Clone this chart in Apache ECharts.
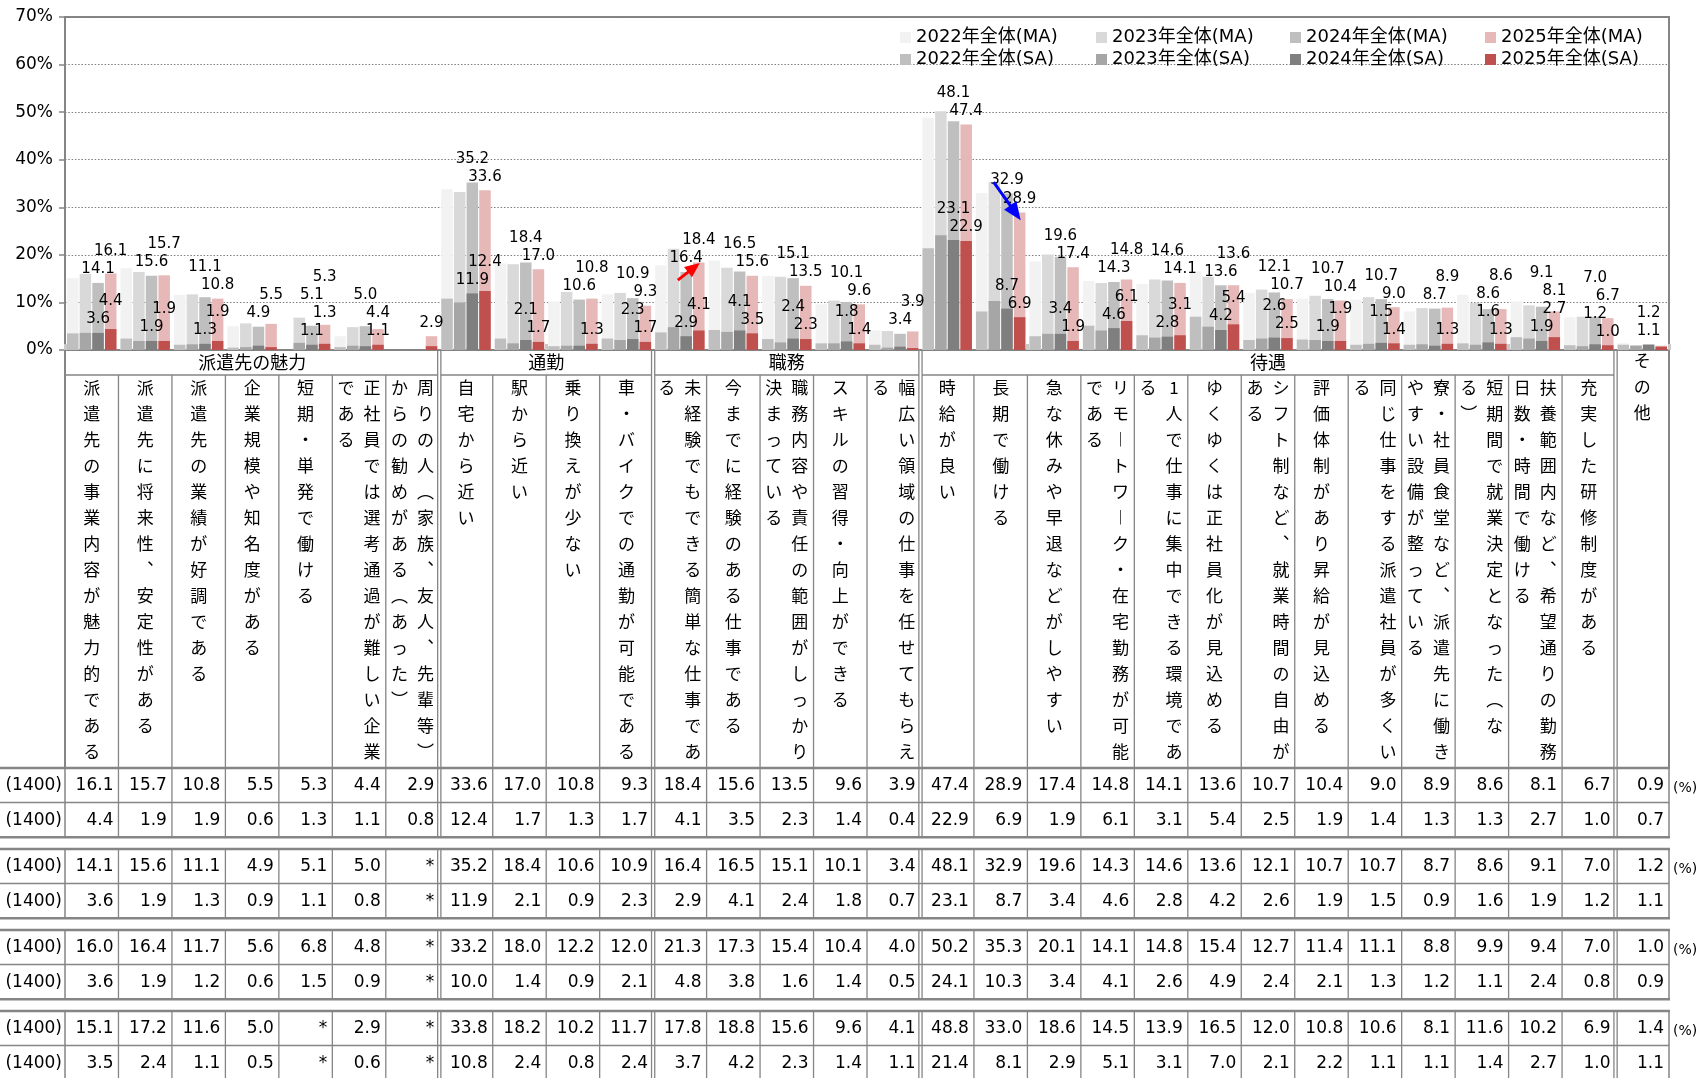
<!DOCTYPE html>
<html><head><meta charset="utf-8">
<script src="https://cdn.jsdelivr.net/npm/echarts@6/dist/echarts.min.js"></script>
<style>html,body{margin:0;padding:0;background:#fff}#main{width:1705px;height:1078px}</style>
</head><body><div id="main"></div>
<script>
// ---------------- data ----------------
const categories = [
 '派遣先の事業内容が魅力的である',
 '派遣先に将来性、安定性がある',
 '派遣先の業績が好調である',
 '企業規模や知名度がある',
 '短期・単発で働ける',
 '正社員では選考通過が難しい企業である',
 '周りの人（家族、友人、先輩等）からの勧めがある（あった）',
 '自宅から近い',
 '駅から近い',
 '乗り換えが少ない',
 '車・バイクでの通勤が可能である',
 '未経験でもできる簡単な仕事である',
 '今までに経験のある仕事である',
 '職務内容や責任の範囲がしっかり決まっている',
 'スキルの習得・向上ができる',
 '幅広い領域の仕事を任せてもらえる',
 '時給が良い',
 '長期で働ける',
 '急な休みや早退などがしやすい',
 'リモートワーク・在宅勤務が可能である',
 '1人で仕事に集中できる環境である',
 'ゆくゆくは正社員化が見込める',
 'シフト制など、就業時間の自由がある',
 '評価体制があり昇給が見込める',
 '同じ仕事をする派遣社員が多くいる',
 '寮・社員食堂など、派遣先に働きやすい設備が整っている',
 '短期間で就業決定となった（なる）',
 '扶養範囲内など、希望通りの勤務日数・時間で働ける',
 '充実した研修制度がある',
 'その他'
];
const groupNames  = ['派遣先の魅力', '通勤', '職務', '待遇', ''];
const groupCounts = [7, 4, 5, 13, 1];
const years = ['2022', '2023', '2024', '2025'];
const sampleSize = 1400;

const ma2025 = [16.1,15.7,10.8,5.5,5.3,4.4,2.9,33.6,17.0,10.8,9.3,18.4,15.6,13.5,9.6,3.9,47.4,28.9,17.4,14.8,14.1,13.6,10.7,10.4,9.0,8.9,8.6,8.1,6.7,0.9];
const sa2025 = [4.4,1.9,1.9,0.6,1.3,1.1,0.8,12.4,1.7,1.3,1.7,4.1,3.5,2.3,1.4,0.4,22.9,6.9,1.9,6.1,3.1,5.4,2.5,1.9,1.4,1.3,1.3,2.7,1.0,0.7];
const ma2024 = [14.1,15.6,11.1,4.9,5.1,5.0,null,35.2,18.4,10.6,10.9,16.4,16.5,15.1,10.1,3.4,48.1,32.9,19.6,14.3,14.6,13.6,12.1,10.7,10.7,8.7,8.6,9.1,7.0,1.2];
const sa2024 = [3.6,1.9,1.3,0.9,1.1,0.8,null,11.9,2.1,0.9,2.3,2.9,4.1,2.4,1.8,0.7,23.1,8.7,3.4,4.6,2.8,4.2,2.6,1.9,1.5,0.9,1.6,1.9,1.2,1.1];
const ma2023 = [16.0,16.4,11.7,5.6,6.8,4.8,null,33.2,18.0,12.2,12.0,21.3,17.3,15.4,10.4,4.0,50.2,35.3,20.1,14.1,14.8,15.4,12.7,11.4,11.1,8.8,9.9,9.4,7.0,1.0];
const sa2023 = [3.6,1.9,1.2,0.6,1.5,0.9,null,10.0,1.4,0.9,2.1,4.8,3.8,1.6,1.4,0.5,24.1,10.3,3.4,4.1,2.6,4.9,2.4,2.1,1.3,1.2,1.1,2.4,0.8,0.9];
const ma2022 = [15.1,17.2,11.6,5.0,null,2.9,null,33.8,18.2,10.2,11.7,17.8,18.8,15.6,9.6,4.1,48.8,33.0,18.6,14.5,13.9,16.5,12.0,10.8,10.6,8.1,11.6,10.2,6.9,1.4];
const sa2022 = [3.5,2.4,1.1,0.5,null,0.6,null,10.8,2.4,0.8,2.4,3.7,4.2,2.3,1.4,1.1,21.4,8.1,2.9,5.1,3.1,7.0,2.1,2.2,1.1,1.1,1.4,2.7,1.0,1.1];
const yTicks = [0,10,20,30,40,50,60,70];

// ---------------- style / layout ----------------
const FONT_NUM = '"DejaVu Sans", "Noto Sans CJK JP", sans-serif';
const FONT_JP = '"Noto Sans CJK JP", sans-serif';
const MA_COLORS = ['#f2f2f2', '#d9d9d9', '#bfbfbf', '#e6b9b8'];
const SA_COLORS = ['#bfbfbf', '#a6a6a6', '#7f7f7f', '#c0504d'];
const LINE = '#858585';
const W = 1705, H = 1078;
const GL = 65, GR = 1669, GT = 17, G0 = 350;
const N = categories.length;
const colW = (GR - GL) / N;
const xb = k => GL + k * colW;

const maArr = [ma2022, ma2023, ma2024, ma2025];
const saArr = [sa2022, sa2023, sa2024, sa2025];
const labelArrs = {2: ma2024, 3: ma2025, 6: sa2024, 7: sa2025};
const LABEL_H = 18;

function labelLayout(params) {
  const si = params.seriesIndex, i = params.dataIndex;
  const arr = labelArrs[si];
  if (!arr) return {};
  const v = arr[i];
  if (v == null || v < 1) return {};
  const r = params.rect;
  const bottom = r.y + r.height;
  const ppu = r.height / v;
  const items = [];
  [2, 3, 6, 7].forEach(s => {
    const val = labelArrs[s][i];
    if (val != null && val >= 1) items.push({s: s, top: bottom - val * ppu});
  });
  items.sort((a, b) => b.top - a.top);
  let prev = Infinity, dy = 0;
  for (const it of items) {
    const p = Math.min(it.top, prev - LABEL_H);
    if (it.s === si) { dy = p - it.top; break; }
    prev = p;
  }
  return {dy: dy};
}

const fmtLabel = p => (p.value == null || p.value < 1) ? '' : Number(p.value).toFixed(1);

const series = [];
years.forEach((y, j) => {
  series.push({
    name: y + '年全体(MA)', type: 'bar', xAxisIndex: 0, yAxisIndex: 0,
    data: maArr[j], barWidth: 11.5, barGap: '10%',
    itemStyle: {color: MA_COLORS[j]},
    label: {show: j >= 2, position: 'top', distance: 6, formatter: fmtLabel,
            fontSize: 15, fontFamily: FONT_NUM, color: '#000'},
    labelLayout: labelLayout
  });
});
years.forEach((y, j) => {
  series.push({
    name: y + '年全体(SA)', type: 'bar', xAxisIndex: 1, yAxisIndex: 0,
    data: saArr[j], barWidth: 11.5, barGap: '10%',
    itemStyle: {color: SA_COLORS[j]},
    label: {show: j >= 2, position: 'top', distance: 6, formatter: fmtLabel,
            fontSize: 15, fontFamily: FONT_NUM, color: '#000'},
    labelLayout: labelLayout
  });
});

const LEG_X = [895, 1091, 1285, 1480];
const legends = years.map((y, j) => ({
  orient: 'vertical', left: LEG_X[j], top: 22,
  itemWidth: 11, itemHeight: 11, itemGap: 1, icon: 'rect', selectedMode: false,
  data: [y + '年全体(MA)', y + '年全体(SA)'],
  textStyle: {fontSize: 18, fontFamily: FONT_NUM, color: '#000', lineHeight: 21}
}));

const option = {
  animation: false,
  backgroundColor: '#fff',
  grid: {left: GL, right: W - GR, top: GT, bottom: H - G0, show: true,
         borderColor: LINE, borderWidth: 2, containLabel: false},
  legend: legends,
  xAxis: [
    {type: 'category', data: categories, position: 'bottom',
     axisLine: {show: false}, axisLabel: {show: false},
     axisTick: {show: true, inside: true, length: 6, lineStyle: {color: '#c8c8c8', width: 3}},
     splitLine: {show: false}},
    {type: 'category', data: categories, position: 'bottom', show: false}
  ],
  yAxis: {
    type: 'value', min: 0, max: 70, interval: 10,
    axisLine: {show: false},
    axisTick: {show: true, length: 6, lineStyle: {color: LINE, width: 1.5}},
    axisLabel: {formatter: '{value}%', fontSize: 17, fontFamily: FONT_NUM, color: '#000', margin: 12},
    splitLine: {show: true, lineStyle: {color: '#7f7f7f', width: 1.2, type: [1.5, 1.8]}}
  },
  series: series
};

const chart = echarts.init(document.getElementById('main'), null, {renderer: 'canvas'});
chart.setOption(option);

// ---------------- table & labels (graphic) ----------------
const g = [];
function hline(x1, x2, y, w) { g.push({type: 'line', silent: true, shape: {x1: x1, y1: y, x2: x2, y2: y}, style: {stroke: LINE, lineWidth: w}}); }
function vline(x, y1, y2, w) { g.push({type: 'line', silent: true, shape: {x1: x, y1: y1, x2: x, y2: y2}, style: {stroke: LINE, lineWidth: w}}); }
function txt(x, y, t, o) {
  g.push({type: 'text', silent: true, style: Object.assign({text: t, x: x, y: y, fill: '#000',
    fontSize: 17, fontFamily: FONT_NUM, align: 'center', verticalAlign: 'middle'}, o || {})});
}

const HEAD_ROW = 375, HEAD_BOTTOM = 768;
const boundaries = new Set();
let acc = 0;
const groupRanges = groupCounts.map((c, gi) => { const r = [acc, acc + c]; acc += c; if (acc < N) boundaries.add(acc); return r; });

// header area
groupRanges.forEach((r, gi) => {
  if (!groupNames[gi]) return;
  const x1 = xb(r[0]) + (r[0] > 0 ? 1.5 : 0), x2 = xb(r[1]) - (r[1] < N ? 1.5 : 0);
  hline(x1, x2, HEAD_ROW, 1.5);
  txt((xb(r[0]) + xb(r[1])) / 2, 362, groupNames[gi], {fontSize: 18, fontFamily: FONT_JP});
});
vline(GL, G0, HEAD_BOTTOM, 2);
vline(GR, G0, HEAD_BOTTOM, 2);
for (let k = 1; k < N; k++) {
  if (boundaries.has(k)) { vline(xb(k) - 1.6, G0, HEAD_BOTTOM, 1.3); vline(xb(k) + 1.6, G0, HEAD_BOTTOM, 1.3); }
  else vline(xb(k), HEAD_ROW, HEAD_BOTTOM, 1.3);
}

// vertical category labels
const VMAP = {'（': '︵', '）': '︶', 'ー': '︱', '、': '︑'};
const NOSTART = '）、';
function wrapVertical(s, max) {
  const chars = Array.from(s);
  const cols = [];
  let i = 0;
  while (i < chars.length) {
    let end = Math.min(i + max, chars.length);
    if (end < chars.length && NOSTART.indexOf(chars[end]) >= 0) end -= 1;
    cols.push(chars.slice(i, end));
    i = end;
  }
  return cols.map(c => c.map(ch => VMAP[ch] || ch));
}
let gi2 = 0;
categories.forEach((name, i) => {
  while (i >= groupRanges[gi2][1]) gi2++;
  const noHeader = !groupNames[gi2];
  const cols = wrapVertical(name, 15);
  const cx = xb(i) + colW / 2;
  const xs = cols.length === 1 ? [cx] : [cx + 13, cx - 13];
  cols.forEach((c, ci) => {
    txt(xs[ci], noHeader ? 348 : 375, c.join('\n'),
        {fontSize: 17, fontFamily: FONT_JP, lineHeight: 26, verticalAlign: 'top'});
  });
});

// data table
const tableRows = [ma2025, sa2025, ma2024, sa2024, ma2023, sa2023, ma2022, sa2022];
const blockTops = [768, 849, 930, 1011];
const ROWH = 34.6;
blockTops.forEach((top, b) => {
  const bot = top + 2 * ROWH;
  hline(0, GR + 1, top, 2.4);
  hline(0, GR, top + ROWH, 1.5);
  hline(0, GR + 1, bot, 2.4);
  vline(GL, top, bot, 1.5);
  vline(GR, top, bot, 1.5);
  for (let k = 1; k < N; k++) {
    if (boundaries.has(k)) { vline(xb(k) - 1.6, top, bot, 1.3); vline(xb(k) + 1.6, top, bot, 1.3); }
    else vline(xb(k), top, bot, 1.3);
  }
  for (let r = 0; r < 2; r++) {
    const arr = tableRows[b * 2 + r];
    const cy = top + ROWH * r + ROWH / 2 + 0.5;
    txt(62, cy, '(' + sampleSize + ')', {align: 'right'});
    arr.forEach((v, k) => {
      txt(xb(k + 1) - 5, cy, v == null ? '*' : v.toFixed(1), {align: 'right'});
    });
    if (r === 0) txt(GR + 4, cy + 3, '(%)', {align: 'left', fontSize: 14});
  }
});

// annotation arrows
const arrows = [
  {cat: 11, from: [-2, 14.7], to: [20, 18.3], color: '#ff0000', head: 15, hw: 13},
  {cat: 17, from: [-7, 35.3], to: [20, 27.3], color: '#0000ff', head: 18, hw: 15}
];
arrows.forEach(a => {
  const p1 = chart.convertToPixel({xAxisIndex: 0, yAxisIndex: 0}, [a.cat, a.from[1]]);
  const p2 = chart.convertToPixel({xAxisIndex: 0, yAxisIndex: 0}, [a.cat, a.to[1]]);
  const x1 = p1[0] + a.from[0], y1 = p1[1], x2 = p2[0] + a.to[0], y2 = p2[1];
  const dx = x2 - x1, dy = y2 - y1, len = Math.sqrt(dx * dx + dy * dy);
  const ux = dx / len, uy = dy / len, px = -uy, py = ux;
  const bx = x2 - ux * a.head, by = y2 - uy * a.head;
  g.push({type: 'line', silent: true, z: 100, shape: {x1: x1, y1: y1, x2: bx + ux * 2, y2: by + uy * 2},
          style: {stroke: a.color, lineWidth: 3}});
  g.push({type: 'polygon', silent: true, z: 100,
          shape: {points: [[x2, y2], [bx + px * a.hw / 2, by + py * a.hw / 2], [bx - px * a.hw / 2, by - py * a.hw / 2]]},
          style: {fill: a.color}});
});

chart.setOption({graphic: {elements: g}});
</script>
</body></html>
